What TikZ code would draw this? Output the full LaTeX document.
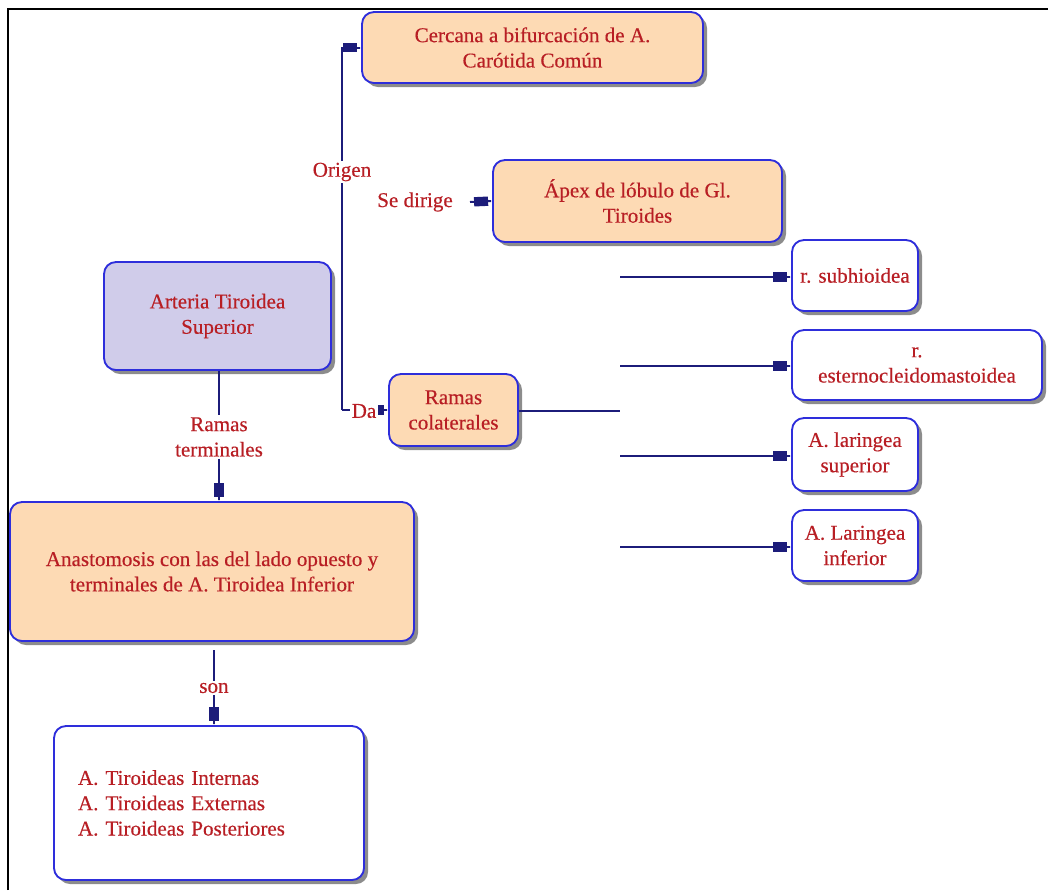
\documentclass[tikz,border=0pt]{standalone}
\usepackage{fontspec}
\setmainfont{Liberation Serif}
\newfontfamily\diagfont[FakeBold=0.35]{Liberation Serif}
\usetikzlibrary{arrows.meta,shadows}
\definecolor{boxorange}{HTML}{FDDAB4}
\definecolor{boxlav}{HTML}{D0CCEA}
\definecolor{boxline}{HTML}{2E2EDB}
\definecolor{connline}{HTML}{1C1C7A}
\definecolor{txtred}{HTML}{B81E24}
\tikzset{
  box/.style={draw=boxline, line width=1.4pt, rounded corners=9pt, inner sep=0pt,
    align=center, text=txtred, font=\diagfont\fontsize{15.8}{19}\selectfont,
    drop shadow={shadow xshift=3pt, shadow yshift=-3pt, fill=black!45, opacity=1}},
  orangebox/.style={box, fill=boxorange},
  lavbox/.style={box, fill=boxlav},
  whitebox/.style={box, fill=white},
  lbl/.style={fill=white, inner sep=1.5pt, text=txtred, align=center,
    font=\diagfont\fontsize{15.8}{19}\selectfont},
  conn/.style={draw=connline, line width=1.5pt},
  arr/.style={conn, -{Rectangle[length=10.5pt,width=7pt,sep=0pt]Rectangle[length=3pt,width=1.5pt,sep=0pt]}},
}
\begin{document}
\begin{tikzpicture}[x=0.75pt,y=-0.75pt]
\useasboundingbox (0,0) rectangle (1048,890);
\draw[line width=2.2pt] (8,890) -- (8,9) -- (1048,9);

% boxes
\node[orangebox, minimum width=255.75pt, minimum height=53.25pt] (cer) at (532.5,47.5)
  {Cercana a bifurcación de A.\\Carótida Común};
\node[orangebox, minimum width=216.75pt, minimum height=61.5pt] (apex) at (637.5,201)
  {Ápex de lóbulo de Gl.\\Tiroides};
\node[lavbox, minimum width=170.25pt, minimum height=81pt] (art) at (217.5,316)
  {Arteria Tiroidea\\Superior};
\node[orangebox, minimum width=96.75pt, minimum height=54pt] (col) at (453.5,410)
  {Ramas\\colaterales};
\node[whitebox, minimum width=94.5pt, minimum height=53.25pt] (sub) at (855,275.5)
  {r. subhioidea};
\node[whitebox, minimum width=187.5pt, minimum height=52.5pt] (est) at (917,365)
  {r.\\esternocleidomastoidea};
\node[whitebox, minimum width=94.5pt, minimum height=54.75pt] (lsup) at (855,454.5)
  {A. laringea\\superior};
\node[whitebox, minimum width=94.5pt, minimum height=53.25pt] (linf) at (855,545.5)
  {A. Laringea\\inferior};
\node[orangebox, minimum width=303pt, minimum height=104.25pt] (ana) at (212,571.5)
  {Anastomosis con las del lado opuesto y\\terminales de A. Tiroidea Inferior};
\node[whitebox, minimum width=232.5pt, minimum height=115.5pt, text width=196.5pt, align=left] (lst) at (209,803)
  {A. Tiroideas Internas\\A. Tiroideas Externas\\A. Tiroideas Posteriores};

% Origen / Da
\coordinate (cj) at (342,410);
\draw[arr] (cj) |- (cer.west);
\node[lbl] (origen) at (342,172) {Origen};
\draw[arr] (cj) -- (col.west);
\node[lbl] (da) at (364,411) {Da};

% Se dirige
\node[lbl] (sed) at (415,202) {Se dirige};
\coordinate (sdstart) at (470,202);
\draw[arr] (sdstart) -- (apex.west);

% ramas colaterales
\coordinate (cend) at (620,411);
\draw[conn] (col.east |- cend) -- (cend);
\coordinate (b1) at (620,277);
\coordinate (b2) at (620,366);
\coordinate (b3) at (620,456);
\coordinate (b4) at (620,547);
\draw[arr] (b1) -- (b1 -| sub.west);
\draw[arr] (b2) -- (b2 -| est.west);
\draw[arr] (b3) -- (b3 -| lsup.west);
\draw[arr] (b4) -- (b4 -| linf.west);

% ramas terminales
\node[lbl] (rt) at (219,437) {Ramas\\terminales};
\draw[conn] (art.south -| rt) -- (rt.north);
\draw[arr] (rt.south) -- (rt.south |- ana.north);

% son
\node[lbl] (son) at (214,688) {son};
\coordinate (sonstart) at (214,650);
\draw[conn] (sonstart) -- (son.north);
\draw[arr] (son.south) -- (son.south |- lst.north);
\end{tikzpicture}
\end{document}
